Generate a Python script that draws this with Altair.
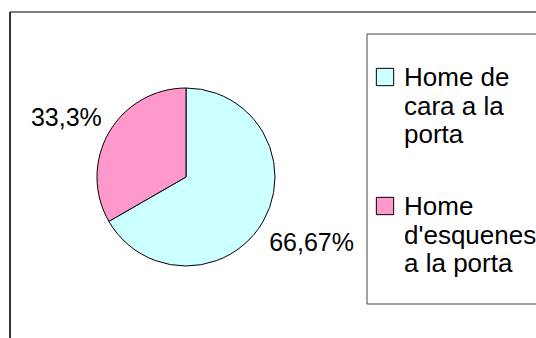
import altair as alt
import pandas as pd

# ---- data ----
categories = ["Home de cara a la porta", "Home d'esquenes a la porta"]
values = [66.67, 33.3]
pct_labels = ["66,67%", "33,3%"]
legend_lines = [["Home de", "cara a la", "porta"], ["Home", "d'esquenes", "a la porta"]]
colors = ["#CCFFFF", "#FF99CC"]

total = sum(values)
df = pd.DataFrame({
    "cat": categories,
    "value": values,
    "label": pct_labels,
    "idx": list(range(len(categories))),
})
leg = pd.DataFrame({
    "cat": categories,
    "lines": legend_lines,
    "idx": list(range(len(categories))),
})

FONT = "Liberation Sans"
CX, CY, R = 176, 165, 89  # pie centre / radius inside the view

color_scale = alt.Scale(domain=categories, range=colors)
theta_scale = alt.Scale(domain=[0, total])

base = alt.Chart(df)

outer = alt.Chart(alt.Data(values=[{}])).mark_rect(
    fill="white", stroke="black", strokeWidth=1
).encode(x=alt.value(0), x2=alt.value(1000), y=alt.value(0), y2=alt.value(1000))

outer_left = alt.Chart(alt.Data(values=[{}])).mark_rule(
    color="#333333", strokeWidth=2
).encode(x=alt.value(0), y=alt.value(0), y2=alt.value(1000))

legend_box = alt.Chart(alt.Data(values=[{}])).mark_rect(
    fill="white", stroke="#444444", strokeWidth=1
).encode(x=alt.value(357), x2=alt.value(1000), y=alt.value(22), y2=alt.value(292))

arcs = base.mark_arc(outerRadius=R, stroke="black", strokeWidth=1).encode(
    theta=alt.Theta("value:Q", stack=True, scale=theta_scale),
    color=alt.Color("cat:N", scale=color_scale, legend=None),
    order=alt.Order("idx:Q"),
    x=alt.value(CX),
    y=alt.value(CY),
)

def label_layer(i, dx, dy):
    return base.transform_window(
        cum="sum(value)", sort=[alt.SortField("idx")], frame=[None, 0]
    ).transform_calculate(
        mid="datum.cum - datum.value / 2"
    ).transform_filter(
        alt.datum.idx == i
    ).mark_text(
        radius=137, fontSize=25, font=FONT, color="black", dx=dx, dy=dy
    ).encode(
        theta=alt.Theta("mid:Q", stack=False, scale=theta_scale),
        text="label:N",
        x=alt.value(CX),
        y=alt.value(CY),
    )

lab0 = label_layer(0, 7, -3)
lab1 = label_layer(1, -1, 10)

ypos = alt.Y("idx:Q", scale=alt.Scale(domain=[0, 1], range=[65, 194], zero=False, nice=False), axis=None)

leg_sym = alt.Chart(leg).mark_square(
    size=300, stroke="black", strokeWidth=1, opacity=1, filled=True
).encode(
    x=alt.value(375),
    y=ypos,
    fill=alt.Fill("cat:N", scale=color_scale, legend=None),
)

leg_txt = alt.Chart(leg).mark_text(
    align="left", baseline="alphabetic", fontSize=26, font=FONT, color="black",
    lineHeight=28.5, dy=9
).encode(
    x=alt.value(394),
    y=ypos,
    text="lines",
)

chart = alt.layer(
    outer, outer_left, legend_box, arcs, lab0, lab1, leg_sym, leg_txt
).properties(
    width=526, height=326,
    autosize=alt.AutoSizeParams(type="none"),
    padding={"left": 10, "top": 12, "right": 0, "bottom": 0},
    background="white",
).configure_view(stroke=None)

chart.save("out.html", embed_options={"renderer": "svg", "actions": False})
